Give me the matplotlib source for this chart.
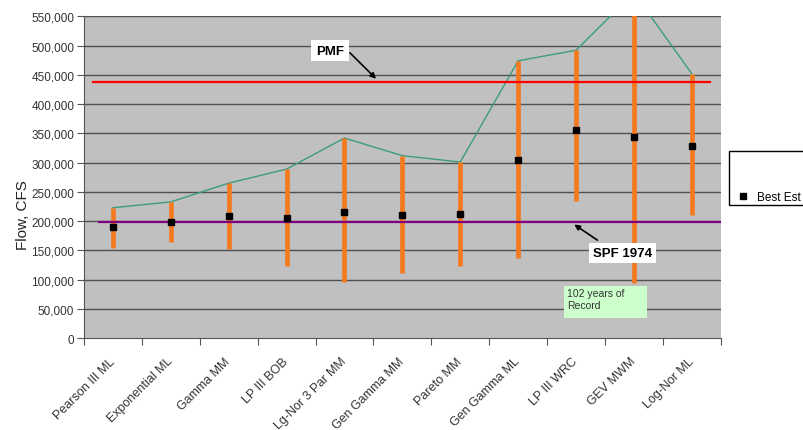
import matplotlib
matplotlib.use("Agg")
import matplotlib.pyplot as plt
from matplotlib.lines import Line2D
from matplotlib.patches import Rectangle
import numpy as np

plt.rcParams['font.family'] = ['Liberation Sans', 'DejaVu Sans']

methods = ["Pearson III ML", "Exponential ML", "Gamma MM", "LP III BOB",
           "Lg-Nor 3 Par MM", "Gen Gamma MM", "Pareto MM", "Gen Gamma ML",
           "LP III WRC", "GEV MWM", "Log-Nor ML"]
upper = [223000, 233000, 265000, 289000, 342000, 312000, 301000, 474000,
         492000, 590000, 452000]
lower = [155000, 164000, 152000, 124000, 96000, 111000, 124000, 138000,
         235000, 94000, 211000]
best = [190000, 198000, 209000, 206000, 215000, 211000, 213000, 305000,
        356000, 344000, 329000]
pmf = 438000
spf = 198000
yticks = list(range(0, 550001, 50000))

fig = plt.figure(figsize=(8.04, 4.31), dpi=100)
ax = fig.add_axes([84/804, 1-339.3/431, 636.7/804, 322/431])
ax.set_facecolor('#c0c0c0')

n = len(methods)
x = np.arange(n)
ax.set_xlim(-0.5, n-0.5)
ax.set_ylim(0, 550000)

for t in yticks[1:]:
    ax.axhline(t, color='#505050', lw=1.0, zorder=1)

# upper envelope line
ax.plot(x, upper, color='#3c9c7c', lw=1.0, zorder=2)
# ranges
ax.vlines(x, lower, upper, color='#f47a20', lw=3.4, zorder=3)
# PMF and SPF
ax.axhline(pmf, xmin=0.014, xmax=0.983, color='#ff0000', lw=1.6, zorder=4)
ax.axhline(spf, xmin=0.024, xmax=1.0, color='#800080', lw=1.6, zorder=4)
# best estimates
ax.plot(x, best, linestyle='none', marker='s', color='black', markersize=4.5, zorder=5)

# ticks
ax.set_yticks(yticks)
ax.set_yticklabels([f"{v:,}" for v in yticks], fontsize=8.5, color='#333333')
ax.tick_params(axis='y', direction='out', length=5, color='#555555', pad=2)
ax.set_xticks(np.arange(-0.5, n, 1.0))
ax.set_xticklabels([])
ax.tick_params(axis='x', which='major', direction='out', length=5, color='#555555')
ax.set_xticks(x, minor=True)
ax.set_xticklabels(methods, minor=True, rotation=45, ha='right', va='center',
                   rotation_mode='anchor', fontsize=9, color='#333333')
ax.tick_params(axis='x', which='minor', length=0, pad=15)
for s in ['top', 'right']:
    ax.spines[s].set_visible(False)
for s in ['left', 'bottom']:
    ax.spines[s].set_color('#555555')

ax.set_ylabel("Flow, CFS", fontsize=11, color='#222222')
ax.yaxis.set_label_coords(-0.085, 0.386)

# annotations
ax.text(3.75, 491000, "PMF", fontsize=9.5, fontweight='bold', ha='center', va='center',
        bbox=dict(boxstyle='square,pad=0.35', fc='white', ec='none'), zorder=6)
ax.annotate("", xy=(4.58, 440000), xytext=(4.06, 491000),
            arrowprops=dict(arrowstyle='-|>', color='black', lw=1.2, mutation_scale=8), zorder=6)
ax.text(8.81, 146000, "SPF 1974", fontsize=9.5, fontweight='bold', ha='center', va='center',
        bbox=dict(boxstyle='square,pad=0.3', fc='white', ec='none'), zorder=6)
ax.annotate("", xy=(7.93, 197000), xytext=(8.41, 165000),
            arrowprops=dict(arrowstyle='-|>', color='black', lw=1.2, mutation_scale=8), zorder=6)
ax.add_patch(Rectangle((7.79, 34200), 1.43, 54600, fc='#ccffcc', ec='none', zorder=6))
ax.text(7.84, 86000, "102 years of\nRecord", fontsize=7.5, ha='left', va='top',
        color='#333333', zorder=7, linespacing=1.3)

# legend (box runs off the right edge, as in the reference)
fig.add_artist(Rectangle((729/804, 1-206/431), 90/804, 54.3/431,
                         transform=fig.transFigure, fc='white', ec='black', lw=1.0))
h_best = Line2D([], [], linestyle='none', marker='s', color='black', markersize=4)
leg = fig.legend([h_best], ["Best Est"], loc='center left',
                 bbox_to_anchor=(737/804, 1-198/431), borderaxespad=0,
                 borderpad=0, fontsize=8.5, frameon=False,
                 handlelength=1.0, handletextpad=0.7)

fig.savefig("out.png", dpi=100)
